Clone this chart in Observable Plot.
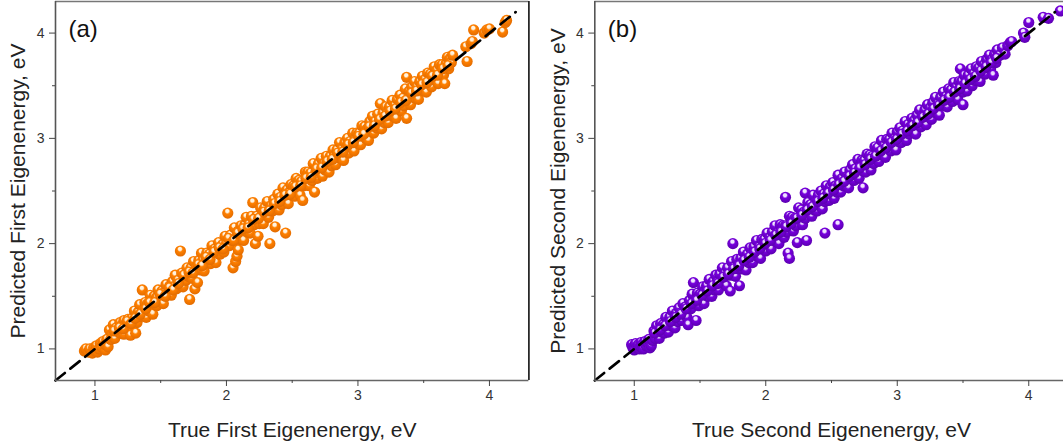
<!DOCTYPE html>
<html>
<head>
<meta charset="utf-8">
<script src="https://cdn.jsdelivr.net/npm/d3@7"></script>
<script src="https://cdn.jsdelivr.net/npm/@observablehq/plot@0.6"></script>
<style>
  html, body { margin: 0; padding: 0; background: #fff; overflow: hidden; width: 1063px; height: 448px; position: relative; }
  #a, #b { position: absolute; top: 0; width: 540px; height: 448px; }
  #a { left: 0; }
  #b { left: 540px; }
  svg { max-width: none !important; }
</style>
</head>
<body>
<div id="a"></div>
<div id="b"></div>
<script>
// ---- data: [true value, predicted value] ----
const firstPoints = [
[0.92,0.98],[0.93,1.00],[0.95,0.97],[0.96,1.00],[0.98,0.96],[0.99,1.01],[1.00,0.98],[1.01,1.03],[1.02,0.97],[1.03,1.00],[1.04,1.05],[1.05,1.02],[1.06,1.07],[1.08,0.99],[1.08,1.04],[1.09,1.09],[1.10,1.02],
[1.11,1.18],[1.12,1.09],[1.13,1.14],[1.14,1.23],[1.15,1.10],[1.16,1.20],[1.17,1.17],[1.19,1.25],[1.19,1.15],[1.20,1.22],[1.22,1.14],[1.22,1.27],[1.23,1.22],[1.25,1.28],[1.26,1.20],[1.27,1.13],[1.28,1.29],[1.29,1.26],[1.30,1.36],[1.31,1.15],[1.32,1.25],[1.33,1.35],[1.34,1.42],[1.35,1.31],
[1.36,1.56],[1.37,1.37],[1.38,1.44],[1.39,1.30],[1.40,1.43],[1.41,1.36],[1.42,1.51],[1.43,1.41],[1.44,1.33],[1.45,1.50],[1.47,1.41],[1.47,1.49],[1.48,1.56],[1.50,1.46],[1.51,1.55],[1.52,1.43],[1.53,1.54],[1.54,1.61],[1.55,1.52],[1.57,1.60],[1.58,1.51],[1.59,1.64],[1.60,1.59],[1.61,1.70],[1.62,1.57],[1.63,1.65],[1.65,1.93],[1.65,1.62],[1.66,1.72],[1.67,1.59],[1.68,1.69],[1.69,1.65],[1.70,1.77],
[1.71,1.69],[1.72,1.47],[1.73,1.77],[1.74,1.67],[1.75,1.83],[1.76,1.57],[1.77,1.77],[1.78,1.63],[1.79,1.84],[1.80,1.75],[1.81,1.91],[1.82,1.84],[1.83,1.74],[1.85,1.91],[1.85,1.83],[1.87,1.90],[1.88,1.81],[1.89,1.98],[1.90,1.87],[1.91,1.95],[1.92,1.82],[1.93,1.94],[1.94,2.01],[1.95,1.90],[1.97,1.99],[1.98,1.92],[1.99,2.07],[2.00,2.00],[2.01,2.29],[2.02,1.98],[2.03,2.08],[2.04,2.03],[2.05,1.77],[2.06,2.15],[2.07,1.83],[2.08,1.88],[2.09,1.94],[2.09,2.12],[2.10,2.04],
[2.11,2.17],[2.12,2.10],[2.13,2.03],[2.14,2.18],[2.15,2.25],[2.16,2.11],[2.17,2.18],[2.18,2.10],[2.19,2.26],[2.20,2.39],[2.21,2.18],[2.22,2.00],[2.23,2.26],[2.24,2.07],[2.25,2.19],[2.26,2.34],[2.27,2.27],[2.28,2.19],[2.29,2.34],[2.30,2.27],[2.31,2.40],[2.32,2.25],[2.33,2.00],[2.34,2.36],[2.35,2.31],[2.36,2.42],[2.37,2.16],[2.38,2.37],[2.39,2.47],[2.40,2.32],[2.41,2.44],[2.42,2.37],[2.43,2.53],[2.44,2.42],[2.45,2.10],[2.46,2.51],[2.47,2.38],[2.48,2.49],[2.49,2.56],[2.50,2.46],
[2.51,2.55],[2.52,2.45],[2.53,2.62],[2.54,2.53],[2.55,2.60],[2.56,2.46],[2.57,2.59],[2.58,2.41],[2.59,2.55],[2.60,2.68],[2.61,2.59],[2.62,2.68],[2.63,2.55],[2.64,2.67],[2.65,2.60],[2.66,2.76],[2.67,2.49],[2.68,2.68],[2.69,2.62],[2.70,2.76],[2.71,2.68],[2.72,2.81],[2.73,2.64],[2.74,2.76],[2.75,2.70],[2.76,2.83],[2.77,2.76],[2.78,2.68],[2.79,2.83],[2.80,2.74],[2.81,2.89],[2.82,2.83],[2.83,2.75],[2.84,2.89],[2.85,2.82],[2.86,2.96],[2.87,2.81],[2.88,2.90],[2.89,2.79],[2.90,2.96],[2.91,2.89],[2.92,3.00],[2.93,2.86],[2.94,2.97],[2.95,2.91],[2.96,3.05],[2.97,2.88],[2.98,2.99],[2.99,3.05],[3.00,2.95],
[3.01,3.05],[3.02,2.94],[3.03,3.12],[3.04,3.02],[3.05,3.11],[3.06,3.00],[3.07,3.09],[3.08,2.98],[3.09,3.16],[3.10,3.07],[3.11,3.21],[3.12,3.05],[3.13,3.16],[3.14,3.10],[3.15,3.23],[3.16,3.15],[3.17,3.33],[3.18,3.09],[3.19,3.24],[3.20,3.15],[3.21,3.30],[3.22,3.23],[3.23,3.15],[3.24,3.30],[3.25,3.22],[3.26,3.36],[3.27,3.21],[3.28,3.31],[3.29,3.19],[3.30,3.37],[3.31,3.29],[3.32,3.41],[3.33,3.26],[3.34,3.38],[3.35,3.31],[3.36,3.47],[3.37,3.19],[3.37,3.58],[3.38,3.37],[3.39,3.45],[3.40,3.32],
[3.41,3.49],[3.42,3.39],[3.43,3.54],[3.44,3.38],[3.45,3.49],[3.46,3.37],[3.47,3.54],[3.48,3.48],[3.49,3.59],[3.50,3.45],[3.51,3.56],[3.52,3.44],[3.53,3.62],[3.54,3.52],[3.55,3.61],[3.56,3.49],[3.57,3.60],[3.58,3.68],[3.59,3.55],[3.60,3.65],[3.61,3.52],[3.62,3.70],[3.63,3.62],[3.64,3.70],[3.65,3.60],[3.66,3.52],[3.67,3.71],[3.68,3.77],[3.69,3.66],[3.70,3.76],[3.71,3.72],[3.72,3.79],
[1.145,1.17],[1.185,1.20],[1.215,1.19],[1.245,1.26],[1.275,1.24],[1.305,1.29],[1.345,1.33],[1.385,1.38],[1.415,1.44],[1.455,1.44],[1.495,1.52],[1.535,1.50],[1.565,1.58],[1.595,1.56],[1.635,1.62],[1.675,1.70],[1.715,1.73],[1.745,1.72],[1.785,1.80],[1.815,1.79],[1.845,1.87],[1.875,1.85],[1.905,1.92],[1.945,1.96],[1.975,1.95],[2.015,2.05],[2.055,2.03],[2.085,2.10],[2.125,2.14],[2.165,2.15],[2.205,2.23],[2.245,2.24],[2.285,2.30],[2.325,2.31],[2.365,2.38],[2.405,2.40],[2.445,2.46],[2.485,2.47],[2.525,2.54],[2.565,2.55],[2.605,2.62],[2.645,2.63],[2.685,2.71],[2.725,2.72],[2.765,2.78],[2.805,2.80],[2.845,2.86],[2.885,2.87],[2.925,2.94],[2.965,2.96],[3.005,3.02],[3.045,3.04],[3.085,3.11],[3.125,3.12],[3.165,3.18],[3.205,3.21],[3.245,3.26],[3.285,3.28],[3.325,3.34],[3.365,3.36],[3.405,3.43],[3.445,3.45],[3.485,3.51],[3.525,3.53],[3.565,3.59],[3.605,3.60],[3.645,3.66],[3.685,3.69],
[3.82,3.87],[3.83,3.73],[3.86,3.90],[3.87,3.92],[3.88,4.03],[3.96,4.00],[3.98,4.03],[4.00,4.04],[4.10,4.01],[4.12,4.10],[4.13,4.12]
];

const secondPoints = [
[0.98,1.04],[0.99,1.01],[1.00,1.03],[1.00,0.99],[1.01,1.05],[1.02,1.01],[1.03,1.04],[1.04,1.00],[1.05,1.06],[1.05,1.02],[1.06,1.04],[1.07,1.00],[1.08,1.07],[1.09,1.03],[1.10,1.06],[1.11,1.09],[1.12,1.01],[1.13,1.03],[1.14,1.08],
[1.15,1.17],[1.16,1.10],[1.17,1.22],[1.18,1.15],[1.19,1.10],[1.20,1.24],[1.21,1.16],[1.22,1.23],[1.23,1.15],[1.24,1.30],[1.25,1.23],[1.26,1.16],[1.27,1.30],[1.28,1.22],[1.29,1.36],[1.30,1.27],[1.31,1.20],[1.32,1.34],[1.33,1.26],[1.34,1.39],[1.35,1.34],[1.36,1.27],[1.37,1.43],[1.38,1.34],[1.39,1.40],[1.40,1.30],[1.41,1.23],[1.42,1.46],[1.43,1.38],[1.44,1.52],[1.45,1.63],[1.46,1.44],[1.47,1.27],[1.48,1.53],
[1.49,1.41],[1.50,1.52],[1.51,1.47],[1.52,1.59],[1.53,1.43],[1.54,1.55],[1.55,1.60],[1.56,1.50],[1.57,1.66],[1.58,1.56],[1.59,1.50],[1.60,1.64],[1.61,1.56],[1.62,1.70],[1.63,1.63],[1.64,1.56],[1.65,1.71],[1.66,1.63],[1.67,1.77],[1.68,1.62],[1.69,1.72],[1.70,1.60],[1.71,1.77],[1.72,1.70],[1.73,1.55],[1.74,1.83],[1.75,2.00],[1.75,1.70],[1.76,1.78],[1.77,1.69],[1.78,1.85],[1.79,1.76],[1.80,1.60],
[1.81,1.86],[1.82,1.76],[1.83,1.92],[1.84,1.82],[1.85,1.75],[1.86,1.90],[1.87,1.82],[1.88,1.96],[1.89,1.89],[1.90,1.82],[1.91,1.97],[1.92,1.89],[1.93,2.03],[1.94,1.88],[1.95,1.97],[1.96,1.86],[1.97,2.04],[1.98,1.97],[1.99,2.04],[2.00,1.93],[2.01,2.10],[2.02,1.99],[2.03,2.06],[2.04,1.95],[2.05,2.11],[2.06,2.04],[2.07,2.17],[2.08,2.02],[2.09,2.10],[2.10,2.00],[2.11,2.18],[2.12,2.08],[2.13,2.17],[2.14,2.06],[2.15,2.44],[2.15,2.17],[2.16,2.11],[2.17,1.91],[2.18,1.86],[2.18,2.26],[2.19,2.16],[2.20,2.25],
[2.21,2.12],[2.22,2.24],[2.23,2.17],[2.24,2.01],[2.25,2.34],[2.26,2.24],[2.27,2.32],[2.28,2.18],[2.29,2.30],[2.30,2.48],[2.30,2.24],[2.31,2.03],[2.32,2.39],[2.33,2.30],[2.34,2.37],[2.35,2.26],[2.36,2.46],[2.37,2.32],[2.38,2.39],[2.39,2.31],[2.40,2.46],[2.41,2.39],[2.42,2.50],[2.43,2.33],[2.44,2.47],[2.45,2.10],[2.45,2.40],[2.46,2.55],[2.47,2.47],[2.48,2.41],[2.49,2.54],[2.50,2.47],[2.51,2.58],[2.52,2.43],[2.53,2.55],[2.54,2.49],[2.55,2.18],[2.55,2.65],[2.56,2.55],[2.57,2.49],[2.58,2.62],[2.59,2.55],[2.60,2.68],
[2.61,2.55],[2.62,2.64],[2.63,2.53],[2.64,2.70],[2.65,2.63],[2.66,2.75],[2.67,2.60],[2.68,2.71],[2.69,2.65],[2.70,2.80],[2.71,2.62],[2.72,2.73],[2.73,2.79],[2.74,2.53],[2.74,2.69],[2.75,2.79],[2.76,2.68],[2.77,2.85],[2.78,2.76],[2.79,2.84],[2.80,2.70],[2.81,2.83],[2.82,2.76],[2.83,2.92],[2.84,2.81],[2.85,2.91],[2.86,2.78],[2.87,2.87],[2.88,2.98],[2.89,2.84],[2.90,2.93],[2.91,2.82],[2.92,2.99],[2.93,2.92],[2.94,2.99],[2.95,2.88],[2.96,3.05],[2.97,2.94],[2.98,3.00],[2.99,2.89],[3.00,3.06],
[3.01,2.97],[3.02,3.10],[3.03,2.96],[3.04,3.07],[3.05,3.03],[3.06,3.16],[3.07,2.98],[3.08,3.13],[3.09,3.04],[3.10,3.11],[3.11,3.19],[3.12,3.06],[3.13,3.17],[3.14,3.04],[3.15,3.22],[3.16,3.14],[3.17,3.27],[3.18,3.11],[3.19,3.21],[3.20,3.16],[3.21,3.27],[3.22,3.13],[3.23,3.32],[3.24,3.23],[3.25,3.29],[3.26,3.18],[3.27,3.34],[3.28,3.25],[3.29,3.39],[3.30,3.24],[3.31,3.33],[3.32,3.22],[3.33,3.39],[3.34,3.32],[3.35,3.44],[3.36,3.31],[3.37,3.40],[3.38,3.30],[3.39,3.47],[3.40,3.40],[3.41,3.46],[3.42,3.35],[3.43,3.53],[3.44,3.41],[3.45,3.49],
[3.46,3.37],[3.47,3.54],[3.48,3.66],[3.48,3.46],[3.49,3.54],[3.50,3.32],[3.50,3.44],[3.51,3.60],[3.52,3.52],[3.53,3.45],[3.54,3.60],[3.55,3.52],[3.56,3.66],[3.57,3.50],[3.58,3.61],[3.59,3.55],[3.60,3.68],[3.61,3.60],[3.62,3.67],[3.63,3.54],[3.64,3.73],[3.65,3.62],[3.66,3.70],[3.67,3.61],[3.68,3.75],[3.69,3.67],[3.70,3.79],[3.71,3.66],[3.72,3.75],[3.73,3.60],[3.74,3.80],[3.75,3.72],[3.76,3.84],[3.78,3.79],[3.80,3.86],[3.82,3.80],[3.84,3.88],[3.86,3.91],[3.87,3.92],
[1.155,1.15],[1.195,1.18],[1.235,1.22],[1.275,1.26],[1.315,1.30],[1.355,1.33],[1.395,1.38],[1.435,1.43],[1.475,1.46],[1.515,1.51],[1.555,1.55],[1.595,1.60],[1.635,1.62],[1.675,1.68],[1.715,1.71],[1.755,1.76],[1.795,1.79],[1.835,1.84],[1.875,1.87],[1.915,1.92],[1.955,1.95],[1.995,2.00],[2.035,2.03],[2.075,2.08],[2.115,2.11],[2.155,2.16],[2.195,2.19],[2.235,2.24],[2.275,2.27],[2.315,2.32],[2.355,2.35],[2.395,2.40],[2.435,2.43],[2.475,2.48],[2.515,2.51],[2.555,2.56],[2.595,2.59],[2.635,2.64],[2.675,2.67],[2.715,2.72],[2.755,2.75],[2.795,2.80],[2.835,2.83],[2.875,2.88],[2.915,2.91],[2.955,2.96],[2.995,2.99],[3.035,3.04],[3.075,3.07],[3.115,3.12],[3.155,3.15],[3.195,3.20],[3.235,3.23],[3.275,3.28],[3.315,3.31],[3.355,3.36],[3.395,3.39],[3.435,3.44],[3.475,3.47],[3.515,3.52],[3.555,3.56],[3.595,3.59],[3.635,3.64],[3.675,3.68],[3.715,3.72],[3.755,3.76],
[3.96,4.00],[3.97,3.96],[4.00,4.10],[4.11,4.15],[4.15,4.14],[4.24,4.21]
];

const axisDomain = [0.7, 4.3];
const diagonalEnds = [0.7, 4.2];
const majorTicks = [1, 2, 3, 4];
const minorTicks = [1.5, 2.5, 3.5];

const panels = [
  {el: "#a", id: "gA", points: firstPoints, tag: "(a)", ml: 55,
   xLabel: "True First Eigenenergy, eV", yLabel: "Predicted First Eigenenergy, eV",
   hi: "#fff3e0", main: "#ff8000", dark: "#e06a00"},
  {el: "#b", id: "gB", points: secondPoints, tag: "(b)", ml: 54.3,
   xLabel: "True Second Eigenenergy, eV", yLabel: "Predicted Second Eigenenergy, eV",
   hi: "#efe2ff", main: "#7700dd", dark: "#5a00ad"}
];

const font = "'Liberation Sans', Arial, sans-serif";
const fmt = d3.format("d");

for (const p of panels) {
  const defsMark = () => {
    const defs = d3.create("svg:defs");
    const g = defs.append("radialGradient").attr("id", p.id)
      .attr("cx", "0.48").attr("cy", "0.42").attr("r", "0.6")
      .attr("fx", "0.45").attr("fy", "0.28");
    g.append("stop").attr("offset", "0").attr("stop-color", p.hi);
    g.append("stop").attr("offset", "0.22").attr("stop-color", p.hi).attr("stop-opacity", 0.9);
    g.append("stop").attr("offset", "0.42").attr("stop-color", p.main);
    g.append("stop").attr("offset", "1").attr("stop-color", p.dark);
    return defs.node();
  };
  const chart = Plot.plot({
    width: 540, height: 448,
    marginLeft: p.ml, marginRight: 540 - p.ml - 473.4, marginTop: 1, marginBottom: 68,
    x: {domain: axisDomain},
    y: {domain: axisDomain},
    style: {fontFamily: font, background: "transparent", overflow: "visible", maxWidth: "none"},
    marks: [
      defsMark,
      Plot.dot(p.points, {x: d => d[0], y: d => d[1], r: 5.6, fill: `url(#${p.id})`, stroke: "none"}),
      Plot.line(diagonalEnds, {x: d => d, y: d => d, stroke: "black", strokeWidth: 2.6, strokeDasharray: "12,7"}),
      Plot.ruleY([axisDomain[1]], {stroke: "#777", strokeWidth: 1.6}),
      Plot.ruleX([axisDomain[1]], {stroke: "#111", strokeWidth: 1.6}),
      Plot.ruleX([axisDomain[0]], {stroke: "#555", strokeWidth: 1.6}),
      Plot.ruleY([axisDomain[0]], {stroke: "#666", strokeWidth: 1.6}),
      Plot.axisX(majorTicks, {tickSize: 6, tickPadding: 4, fontSize: 14, tickFormat: fmt, stroke: "#444", fill: "#333", label: null}),
      Plot.axisX(minorTicks, {tickSize: 3, tickFormat: () => "", stroke: "#444", label: null}),
      Plot.axisY(majorTicks, {tickSize: 6, tickPadding: 5, fontSize: 14, tickFormat: fmt, stroke: "#444", fill: "#333", label: null}),
      Plot.axisY(minorTicks, {tickSize: 3, tickFormat: () => "", stroke: "#444", label: null}),
      Plot.text([p.xLabel], {text: d => d, frameAnchor: "bottom", textAnchor: "middle", lineAnchor: "middle", dy: 50, fontSize: 21, fill: "#222"}),
      Plot.text([p.yLabel], {text: d => d, frameAnchor: "left", textAnchor: "middle", lineAnchor: "middle", rotate: -90, dx: -(p.ml - 18), fontSize: 21, fill: "#222"}),
      Plot.text([p.tag], {text: d => d, frameAnchor: "top-left", textAnchor: "start", lineAnchor: "middle", dx: 13, dy: 28, fontSize: 24, fill: "#111"})
    ]
  });
  document.querySelector(p.el).append(chart);
}
</script>
</body>
</html>
